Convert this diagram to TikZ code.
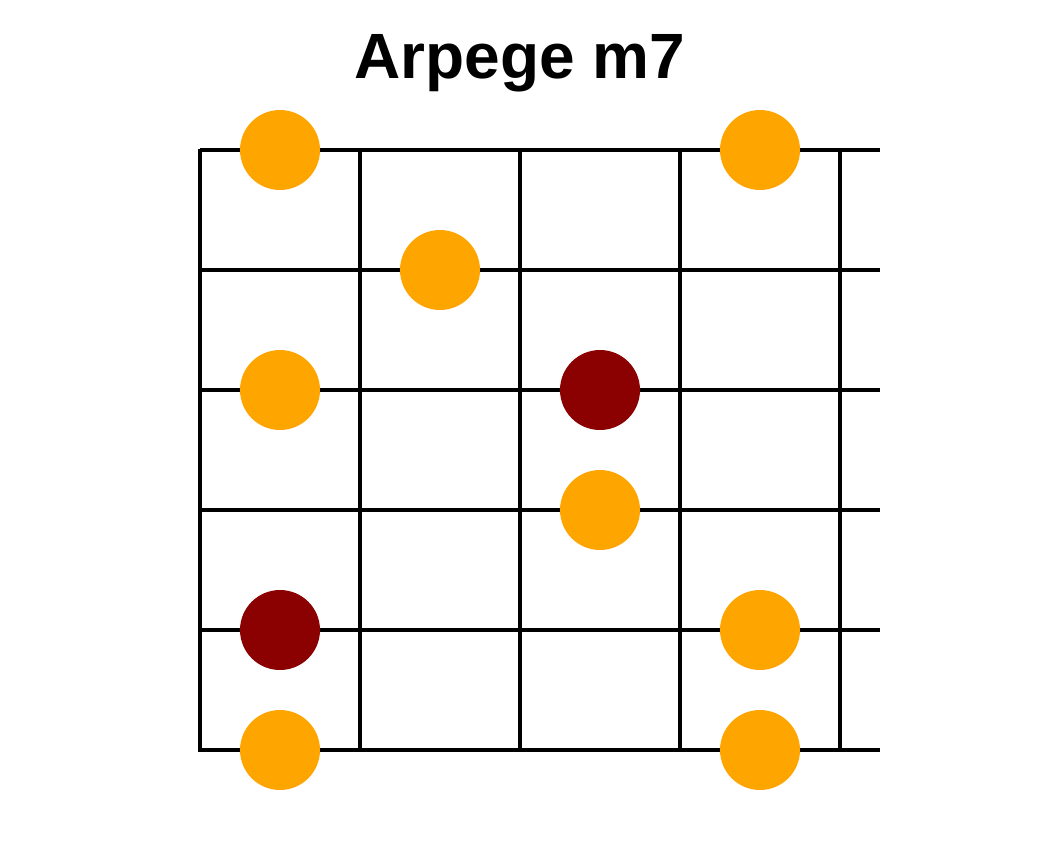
\documentclass[tikz,border=0pt]{standalone}
\usepackage{fontspec}
\setmainfont{Liberation Sans}
\definecolor{dotorange}{HTML}{FFA500}
\definecolor{dotroot}{HTML}{8B0000}
\begin{document}
\begin{tikzpicture}[x=1pt,y=-1pt,
  fret/.style={line width=4pt,black},
  note/.style={circle,fill=dotorange,minimum size=80pt,inner sep=0pt},
  root/.style={circle,fill=dotroot,minimum size=80pt,inner sep=0pt}]
\useasboundingbox[fill=white] (0,0) rectangle (1040,850);
\node[font=\bfseries\fontsize{64}{70}\selectfont,anchor=base,inner sep=0pt] (title) at (520,79) {Arpege m7};
% strings
\foreach \y in {150,270,390,510,630,750}
  \draw[fret] (200,\y) -- (880,\y);
% frets
\foreach \x in {200,360,520,680,840}
  \draw[fret] (\x,149) -- (\x,752);
% notes
\node[note] (n1) at (280,150) {};
\node[note] (n2) at (760,150) {};
\node[note] (n3) at (440,270) {};
\node[note] (n4) at (280,390) {};
\node[root] (r1) at (600,390) {};
\node[note] (n5) at (600,510) {};
\node[root] (r2) at (280,630) {};
\node[note] (n6) at (760,630) {};
\node[note] (n7) at (280,750) {};
\node[note] (n8) at (760,750) {};
\end{tikzpicture}
\end{document}
